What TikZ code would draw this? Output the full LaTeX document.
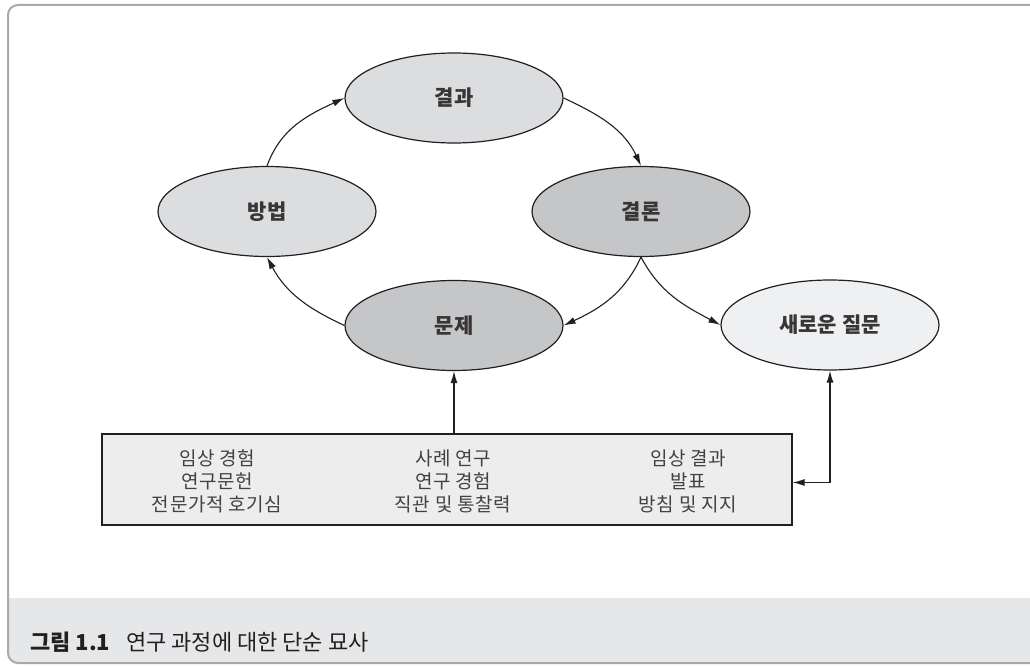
\documentclass[tikz,border=0pt]{standalone}
\usepackage{fontspec}
\setmainfont{Noto Sans CJK KR}
\usetikzlibrary{arrows.meta, shapes.geometric}

\definecolor{framegray}{HTML}{A7A9AC}
\definecolor{capfill}{HTML}{E6E7E8}
\definecolor{lightfill}{HTML}{DCDDDF}
\definecolor{darkfill}{HTML}{C5C6C8}
\definecolor{palefill}{HTML}{EFF0F2}
\definecolor{boxfill}{HTML}{EDEDEE}
\definecolor{ink}{HTML}{231F20}

\begin{document}
\begin{tikzpicture}[x=1pt, y=1pt,
  stage/.style={ellipse, draw=ink, line width=1.2pt, minimum width=218pt,
                minimum height=90pt, inner sep=0pt, text=ink!90,
                font=\fontsize{21}{24}\selectfont\bfseries},
  src/.style={align=center, inner sep=0pt, text=ink!85,
              font=\fontsize{19}{23}\selectfont\addfontfeature{LetterSpace=3}},
  arr/.style={draw=ink, line width=1.1pt, -{Latex[length=12pt, width=7pt]}}]

  \clip (0,0) rectangle (1030,665);

  % Frame and caption bar (runs off the right edge)
  \fill[capfill] (8,67) [rounded corners=10pt] -- (8,2) -- (1045,2) [sharp corners] -- (1045,67) -- cycle;
  \draw[framegray, line width=2pt, rounded corners=10pt] (1045,660) -- (8,660) -- (8,2) -- (1045,2);
  \node[anchor=west, inner sep=0pt, text=ink, font=\fontsize{22}{24}\selectfont] (cap) at (30,23)
    {\textbf{그림 1.1}\hspace{16pt}연구 과정에 대한 단순 묘사};

  % Cycle stages
  \node[stage, fill=lightfill] (res)   at (454,567)   {결과};
  \node[stage, fill=lightfill] (meth)  at (267,453.5) {방법};
  \node[stage, fill=darkfill]  (concl) at (641,453.5) {결론};
  \node[stage, fill=darkfill]  (prob)  at (454,339.5) {문제};
  \node[stage, fill=palefill]  (newq)  at (830,340)   {새로운 질문};

  % Sources box
  \node[draw=ink, line width=1.2pt, fill=boxfill, minimum width=690pt,
        minimum height=91pt, inner sep=0pt] (box) at (447,185.5) {};
  \node[src] (colA) at (217,184) {임상 경험\\연구문헌\\전문가적 호기심};
  \node[src] (colB) at (453,184) {사례 연구\\연구 경험\\직관 및 통찰력};
  \node[src] (colC) at (688,184) {임상 결과\\발표\\방침 및 지지};

  % Connectors
  \draw[arr] (meth.north) to[out=70, in=205] (res.west);
  \draw[arr] (res.east) to[out=-25, in=115] (concl.north);
  \draw[arr] (concl.south) to[out=-115, in=25] (prob.east);
  \draw[arr] (concl.south) to[out=-62, in=152] (newq.west);
  \draw[arr] (prob.west) to[out=155, in=-62] (meth.south);
  \draw[arr] (prob.south |- box.north) -- (prob.south);
  \draw[draw=ink, line width=1.1pt, {Latex[length=12pt, width=7pt]}-{Latex[length=12pt, width=7pt]}]
    ([yshift=-3pt]box.east) -| (newq.south);

\end{tikzpicture}
\end{document}
